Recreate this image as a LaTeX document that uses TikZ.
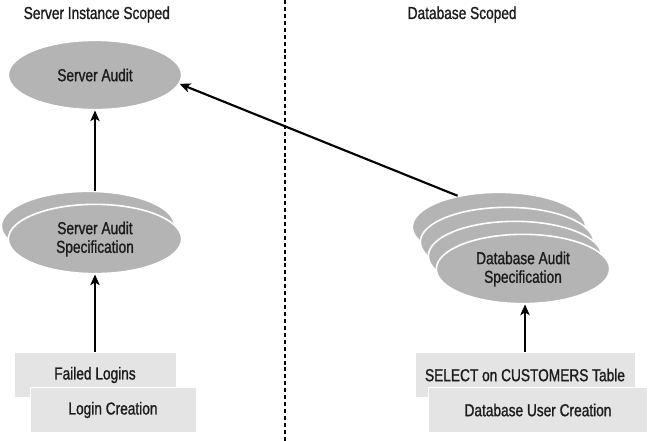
\documentclass[tikz,border=0pt]{standalone}
\usepackage{fontspec}
\setmainfont{Liberation Sans}[FakeStretch=0.79, FakeBold=1.1]
\usetikzlibrary{positioning,calc,arrows.meta,shapes.geometric}
\definecolor{audgray}{HTML}{B4B4B4}
\definecolor{boxgray}{HTML}{E4E4E4}
\definecolor{inktext}{HTML}{1C1C1C}

\begin{document}
\begin{tikzpicture}[x=0.75pt, y=-0.75pt,
  every node/.append style={font=\fontsize{13}{14}\selectfont, text=inktext},
  scopelbl/.style={anchor=base west},
  audit/.style={ellipse, fill=audgray, draw=white, line width=1.2pt,
             minimum width=130pt, minimum height=52pt, inner sep=0pt,
             align=center},
  evt/.style={rectangle, fill=boxgray, draw=white, line width=0.6pt,
             minimum height=34pt, inner sep=0pt, align=center},
  edge/.style={line width=1.6pt, -{Stealth[length=8pt, width=7pt, inset=2pt]}, black},
]
\useasboundingbox (0,0) rectangle (650,441);

% scope headings and divider
\node[scopelbl] (srvscope) at (19,19) {Server Instance Scoped};
\node[scopelbl] (dbscope)  at (403,19) {Database Scoped};
\coordinate (divtop) at (285,0);
\coordinate (divbot) at (285,441);
\draw[line width=0.9pt, dash pattern=on 3pt off 2.2pt] (divtop) -- (divbot);

% server side
\node[audit] (srvaudit) at (95,75)  {Server Audit};
\node[audit] (saspecA)  at (88,226) {};
\node[audit] (saspec)   at (95,239) {Server Audit\\Specification};
\node[evt, minimum width=121.5pt] (failed)   at (95,375)  {Failed Logins};
\node[evt, minimum width=124.5pt] (logincre) at (113,410) {Login Creation};

% database side
\node[audit] (dbspecA) at (499,227) {};
\node[audit] (dbspecB) at (507,242) {};
\node[audit] (dbspecC) at (515,256) {};
\node[audit] (dbspec)  at (523,269) {Database Audit\\Specification};
\node[evt, minimum width=165pt] (selcust) at (525,375) {SELECT on CUSTOMERS Table};
\node[evt, minimum width=164pt] (dbuser)  at (538,410) {Database User Creation};

\draw[edge] (saspecA.north -| srvaudit.south) -- (srvaudit.south);
\draw[edge] (failed) -- (saspec);
\draw[edge] (selcust.north) -- (selcust.north |- dbspec.south);
\draw[edge] (dbspecA.143) -- (srvaudit.-6);
\end{tikzpicture}
\end{document}
